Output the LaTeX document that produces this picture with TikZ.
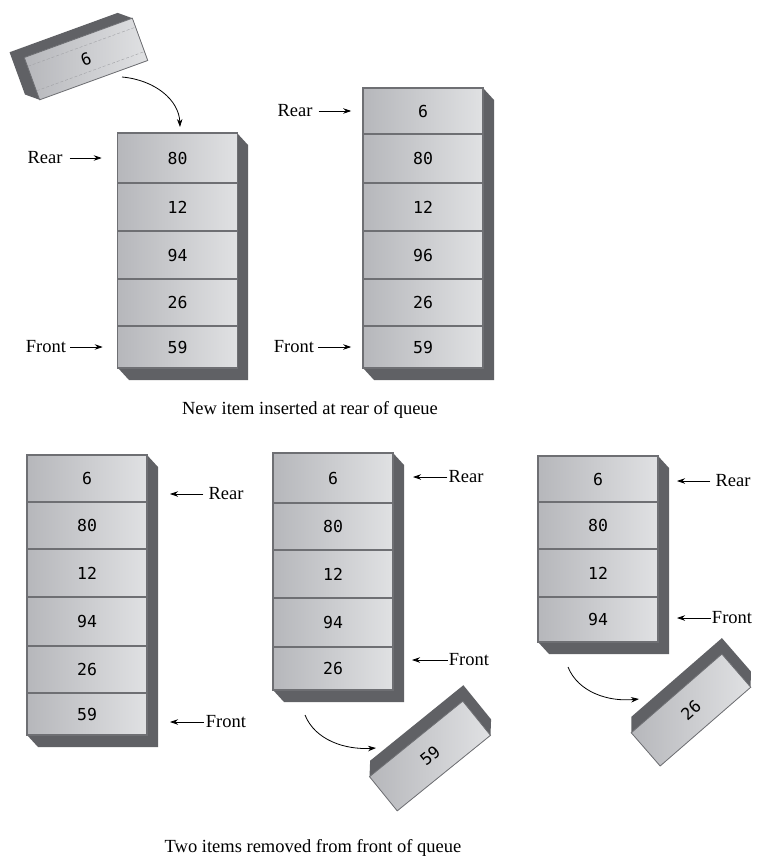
\documentclass[tikz,border=0pt]{standalone}
\usepackage{fontspec}
\setmainfont{Liberation Serif}
\newfontfamily\labelfont{Liberation Serif}
\newfontfamily\numfont{DejaVu Sans Mono}
\usetikzlibrary{arrows.meta}
\definecolor{shadowgray}{RGB}{96,97,101}
\definecolor{faceL}{RGB}{182,183,187}
\definecolor{faceR}{RGB}{224,225,227}
\definecolor{edgegray}{RGB}{110,111,115}
\definecolor{dotgray}{RGB}{160,161,165}
\begin{document}
\begin{tikzpicture}[x=1pt,y=-1pt,
  cell/.style={draw=edgegray, line width=1.6pt, left color=faceL, right color=faceR,
    minimum width=120pt, inner sep=0pt, font=\numfont\fontsize{16.5}{18}\selectfont, text=black},
  rotface/.style={draw=edgegray, line width=0.8pt, left color=faceL, right color=faceR,
    minimum height=44pt, inner sep=0pt, font=\numfont\fontsize{16.5}{18}\selectfont, text=black},
  lbl/.style={font=\labelfont\fontsize{18.5}{20}\selectfont, inner sep=0pt},
  ptr/.style={-{Stealth[length=8pt,width=5.5pt]}, line width=0.8pt},
  shade3d/.style={fill=shadowgray}
]
\useasboundingbox[fill=white] (0,0) rectangle (756,856);

% ---------- stack 1 ----------
\fill[shade3d] (237,133) -- (248,145) -- (248,380) -- (129,380) -- (118,368) -- cycle;
\foreach \t/\b/\v [count=\i] in {133/183/80, 183/231/12, 231/279/94, 279/326/26, 326/368/59}
  \node[cell, minimum height={(\b-\t)*1pt}] (s1-\i) at ({(118+237)/2},{(\t+\b)/2}) {\v};

% ---------- stack 2 ----------
\fill[shade3d] (483,88) -- (494,100) -- (494,380) -- (374,380) -- (363,368) -- cycle;
\foreach \t/\b/\v [count=\i] in {88/134/6, 134/183/80, 183/231/12, 231/279/96, 279/326/26, 326/368/59}
  \node[cell, minimum height={(\b-\t)*1pt}] (s2-\i) at ({(363+483)/2},{(\t+\b)/2}) {\v};

% ---------- stack 3 ----------
\fill[shade3d] (147,455) -- (158,467) -- (158,747) -- (38,747) -- (27,735) -- cycle;
\foreach \t/\b/\v [count=\i] in {455/502/6, 502/549/80, 549/597/12, 597/646/94, 646/693/26, 693/735/59}
  \node[cell, minimum height={(\b-\t)*1pt}] (s3-\i) at ({(27+147)/2},{(\t+\b)/2}) {\v};

% ---------- stack 4 ----------
\fill[shade3d] (393,453) -- (404,465) -- (404,702) -- (284,702) -- (273,690) -- cycle;
\foreach \t/\b/\v [count=\i] in {453/503/6, 503/550/80, 550/598/12, 598/647/94, 647/690/26}
  \node[cell, minimum height={(\b-\t)*1pt}] (s4-\i) at ({(273+393)/2},{(\t+\b)/2}) {\v};

% ---------- stack 5 ----------
\fill[shade3d] (658,456) -- (669,468) -- (669,654) -- (549,654) -- (538,642) -- cycle;
\foreach \t/\b/\v [count=\i] in {456/502/6, 502/549/80, 549/597/12, 597/642/94}
  \node[cell, minimum height={(\b-\t)*1pt}] (s5-\i) at ({(538+658)/2},{(\t+\b)/2}) {\v};

% ---------- rotated box "6" ----------
\begin{scope}[shift={(86,59)}, rotate=20]
  \fill[shade3d] (-69.5,-32.5) -- (45.5,-32.5) -- (57.5,-22.5) -- (57.5,22.5) -- (-57.5,22.5) -- (-69.5,12.5) -- cycle;
\end{scope}
\node[rotface, minimum width=115pt, minimum height=45pt, rotate=20] (b6) at (86,59) {6};
\begin{scope}[shift={(86,59)}, rotate=20]
  \draw[dotgray, densely dashed, line width=0.4pt] (-57,-13) -- (57,-13);
  \draw[dotgray, densely dashed, line width=0.4pt] (-57,13) -- (57,13);
\end{scope}

% ---------- rotated box "59" ----------
\begin{scope}[shift={(430,756)}, rotate=39]
  \fill[shade3d] (-60,22) -- (-60,-22) -- (-49.5,-34) -- (70.5,-34) -- (70.5,10) -- (60,22) -- cycle;
\end{scope}
\node[rotface, minimum width=120pt, rotate=39] (b59) at (430,756) {59};

% ---------- rotated box "26" ----------
\begin{scope}[shift={(691,710)}, rotate=41]
  \fill[shade3d] (-60,22) -- (-60,-22) -- (-49.5,-34) -- (70.5,-34) -- (70.5,10) -- (60,22) -- cycle;
\end{scope}
\node[rotface, minimum width=120pt, rotate=41] (b26) at (691,710) {26};

% ---------- curved arrows ----------
\coordinate (c1s) at (122,77);
\coordinate (c1e) at (180,127);
\draw[ptr] (c1s) .. controls (155,80) and (179,100) .. (c1e);
\coordinate (c2s) at (305,715);
\coordinate (c2e) at (376,748);
\draw[ptr] (c2s) .. controls (315,740) and (345,750) .. (c2e);
\coordinate (c3s) at (568,667);
\coordinate (c3e) at (639,699);
\draw[ptr] (c3s) .. controls (578,692) and (608,702) .. (c3e);

% ---------- labels ----------
\node[lbl] (r1) at (45,158) {Rear};
\draw[ptr, shorten <=7pt, shorten >=15pt] (r1.east) -- (s1-1.west);
\node[lbl] (f1) at (46,347) {Front};
\draw[ptr, shorten <=4pt, shorten >=14pt] (f1.east) -- (s1-5.west);

\node[lbl] (r2) at (295,111) {Rear};
\draw[ptr, shorten <=6pt, shorten >=11pt] (r2.east) -- (s2-1.west);
\node[lbl] (f2) at (294,347) {Front};
\draw[ptr, shorten <=4pt, shorten >=11pt] (f2.east) -- (s2-6.west);

\node[lbl] (r3) at (226,494) {Rear};
\coordinate (r3e) at (170,494);
\draw[ptr, shorten <=5pt] (r3.west) -- (r3e);
\node[lbl] (f3) at (226,722) {Front};
\coordinate (f3e) at (170,722);
\draw[ptr, shorten <=2pt] (f3.west) -- (f3e);

\node[lbl] (r4) at (466,477) {Rear};
\coordinate (r4e) at (413,477);
\draw[ptr, shorten <=1pt] (r4.west) -- (r4e);
\node[lbl] (f4) at (469,660) {Front};
\coordinate (f4e) at (412,660);
\draw[ptr, shorten <=1pt] (f4.west) -- (f4e);

\node[lbl] (r5) at (733,481) {Rear};
\coordinate (r5e) at (677,481);
\draw[ptr, shorten <=5pt] (r5.west) -- (r5e);
\node[lbl] (f5) at (732,618) {Front};
\coordinate (f5e) at (677,618);
\draw[ptr, shorten <=1pt] (f5.west) -- (f5e);

% ---------- captions ----------
\node[lbl] (cap1) at (310,410) {New item inserted at rear of queue};
\node[lbl] (cap2) at (313,848) {Two items removed from front of queue};
\end{tikzpicture}
\end{document}
